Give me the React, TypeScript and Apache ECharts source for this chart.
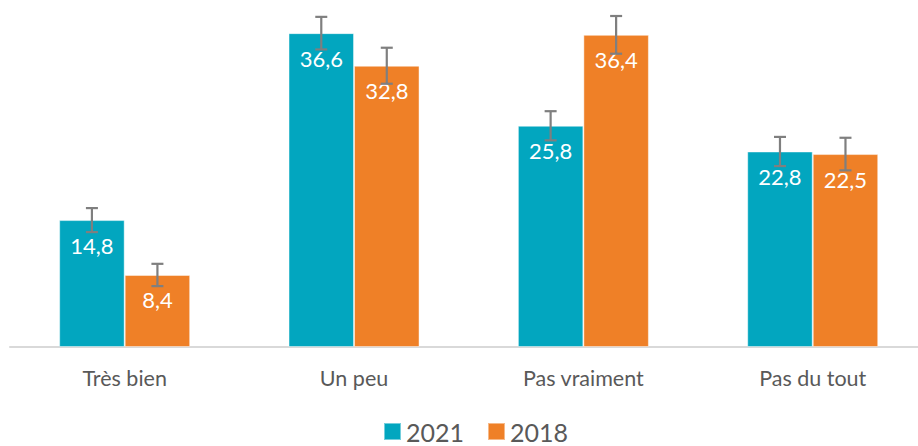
import React, { useEffect, useRef } from "react";
import * as echarts from "echarts";

const categories = ["Très bien", "Un peu", "Pas vraiment", "Pas du tout"];
const values2021 = [14.8, 36.6, 25.8, 22.8];
const values2018 = [8.4, 32.8, 36.4, 22.5];
const err2021 = [1.4, 1.9, 1.7, 1.7];
const err2018 = [1.3, 2.1, 2.2, 1.9];
const seriesNames = ["2021", "2018"];

const TEAL = "#02A6BF";
const ORANGE = "#EF8027";
const BAR_W = 65.5;

const fmt = (v: number) => v.toFixed(1).replace(".", ",");

function errorSeries(name: string, vals: number[], errs: number[], side: number) {
  return {
    type: "custom",
    name: name + "-err",
    z: 10,
    silent: true,
    encode: { x: 0, y: 1 },
    data: vals.map((v, i) => [i, v, errs[i]]),
    renderItem: (_params: any, api: any) => {
      const i = api.value(0);
      const v = api.value(1);
      const e = api.value(2);
      const top = api.coord([i, v + e]);
      const bot = api.coord([i, v - e]);
      const x = top[0] + side * (BAR_W / 2);
      const cap = 6;
      const style = { stroke: "#7f7f7f", lineWidth: 2.2 };
      return {
        type: "group",
        children: [
          { type: "line", shape: { x1: x, y1: top[1], x2: x, y2: bot[1] }, style },
          { type: "line", shape: { x1: x - cap, y1: top[1], x2: x + cap, y2: top[1] }, style },
          { type: "line", shape: { x1: x - cap, y1: bot[1], x2: x + cap, y2: bot[1] }, style },
        ],
      };
    },
  };
}

export default function App() {
  const ref = useRef<HTMLDivElement>(null);
  useEffect(() => {
    if (!ref.current) return;
    const chart = echarts.init(ref.current, null, { renderer: "svg" });
    const label = {
      show: true,
      position: "insideTop",
      distance: 14,
      color: "#ffffff",
      fontSize: 22,
      fontFamily: "Lato",
      formatter: (p: any) => fmt(p.value),
    };
    chart.setOption({
      animation: false,
      textStyle: { fontFamily: "Lato" },
      grid: {
        left: 10,
        top: 4,
        width: 917.4,
        bottom: 99,
        containLabel: false,
        outerBoundsMode: "none",
      },
      legend: {
        data: seriesNames,
        bottom: -3,
        left: 378,
        itemWidth: 17,
        itemHeight: 17,
        itemGap: 23,
        icon: "rect",
        textStyle: { color: "#595959", fontSize: 25, lineHeight: 25, fontFamily: "Lato" },
      },
      xAxis: {
        type: "category",
        data: categories,
        axisLine: { lineStyle: { color: "#d9d9d9", width: 2 } },
        axisTick: { show: false },
        axisLabel: { color: "#595959", fontSize: 21.5, margin: 20, fontFamily: "Lato" },
      },
      yAxis: {
        type: "value",
        min: 0,
        max: 40,
        interval: 10,
        show: false,
        splitLine: { show: false },
      },
      series: [
        {
          name: seriesNames[0],
          type: "bar",
          data: values2021,
          barWidth: BAR_W,
          barGap: "0%",
          itemStyle: { color: TEAL, borderColor: "rgba(255,255,255,0.45)", borderWidth: 1 },
          label,
        },
        {
          name: seriesNames[1],
          type: "bar",
          data: values2018,
          barWidth: BAR_W,
          barGap: "0%",
          itemStyle: { color: ORANGE, borderColor: "rgba(255,255,255,0.45)", borderWidth: 1 },
          label,
        },
        errorSeries(seriesNames[0], values2021, err2021, -1),
        errorSeries(seriesNames[1], values2018, err2018, 1),
      ],
    });
    return () => chart.dispose();
  }, []);
  return (
    <div
      ref={ref}
      style={{ position: "fixed", left: 0, top: 0, width: 918, height: 446, background: "#fff" }}
    />
  );
}
